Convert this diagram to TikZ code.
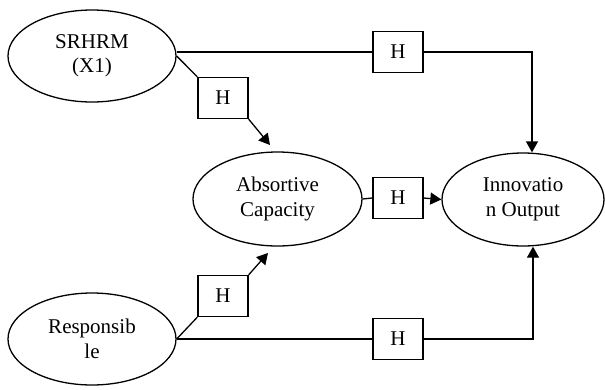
\documentclass[tikz,border=0pt]{standalone}
\usepackage{fontspec}
\setmainfont{Liberation Serif}
\usetikzlibrary{arrows.meta, shapes.geometric, positioning}

\begin{document}
\begin{tikzpicture}[x=1pt, y=-1pt, line width=1.3pt, >={Triangle[length=11pt, width=12pt]},
    var/.style={ellipse, draw, inner sep=0pt, align=center, minimum width=168pt, minimum height=92pt,
                font=\fontsize{21}{24.5}\selectfont},
    hyp/.style={rectangle, draw, inner sep=0pt, minimum width=50pt, minimum height=41pt,
                font=\fontsize{21}{24.5}\selectfont}]

    \useasboundingbox (0 , 0) rectangle (605 , 389);

    \node [var] (srhrm) at (92 , 56) {SRHRM\\(X1)};
    \node [var] (resp) at (92 , 339) {Responsib\\le};
    \node [var, minimum width=169pt, minimum height=94pt] (absorp) at (277.5 , 199) {Absortive\\Capacity};
    \node [var, minimum width=162pt, minimum height=93pt] (inno) at (523 , 199.5) {Innovatio\\n Output};

    \node [hyp] (hT) at (398 , 52) {H};
    \node [hyp] (hU) at (223 , 98) {H};
    \node [hyp] (hM) at (398 , 198) {H};
    \node [hyp] (hL) at (223 , 296) {H};
    \node [hyp] (hB) at (398 , 339) {H};

    \coordinate (cT) at (532 , 52);
    \coordinate (cB) at (533 , 339);
    \coordinate (tU) at (270 , 145);
    \coordinate (tL) at (268 , 253);

 % direct paths
 \draw (hT.west -| srhrm.east) -- (hT.west);
 \draw[->] (hT.east) -- (cT) -- (cT |- inno.north);
 \draw (resp.east) -- (hB.west);
 \draw[->] (hB.east) -- (cB) -- (cB |- inno.south);
 % paths through absorptive capacity
 \draw (srhrm.east) -- (hU.north west);
 \draw[->] (hU.south east) -- (tU);
 \draw (resp.east) -- (hL.south west);
 \draw[->] (hL.north east) -- (tL);
 \draw (absorp.east) -- (hM.west);
 \draw[->] (hM.east) -- (inno.west);
                        \end{tikzpicture}
\end{document}
